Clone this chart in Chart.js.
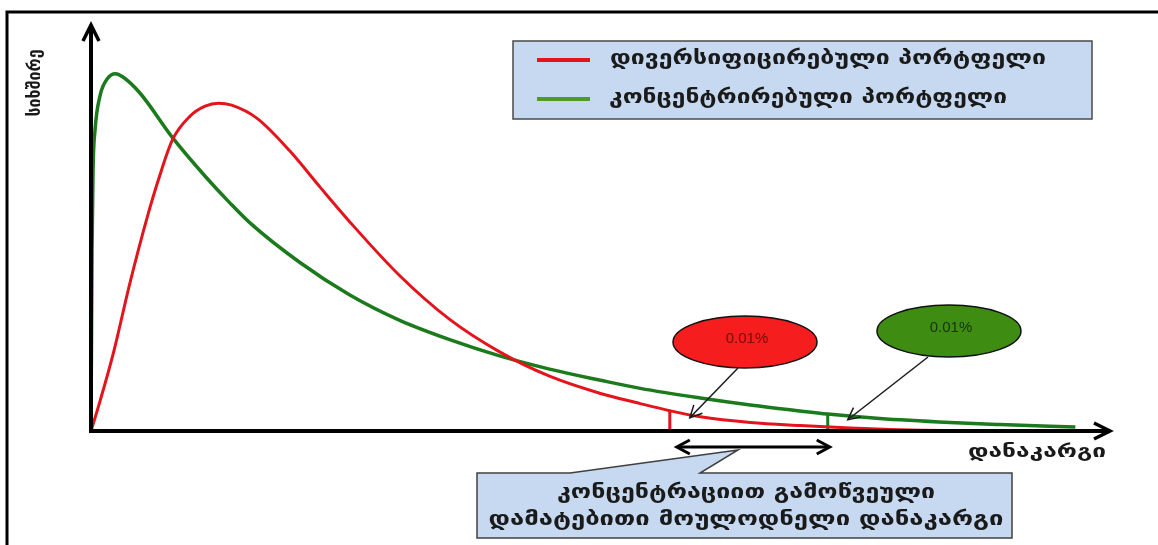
<!DOCTYPE html>
<html>
<head>
<meta charset="utf-8">
<script src="https://cdn.jsdelivr.net/npm/chart.js@4.4.1/dist/chart.umd.min.js"></script>
<style>
  html, body { margin: 0; padding: 0; background: #fff; }
  canvas { display: block; }
</style>
</head>
<body>
<canvas id="chart" width="1158" height="545"></canvas>
<script>
// Texts
const seriesNames = ["დივერსიფიცირებული პორტფელი", "კონცენტრირებული პორტფელი"];
const xTitle = "დანაკარგი";
const yTitle = "სიხშირე";
const calloutLines = ["კონცენტრაციით გამოწვეული", "დამატებითი მოულოდნელი დანაკარგი"];
const tailLabels = ["0.01%", "0.01%"];

// Diversified portfolio (red): loss -> frequency
const diversifiedLoss = [0, 9, 22, 38, 55, 66, 80, 97, 112, 125, 138, 163, 195, 225, 254, 303, 352, 401, 450, 500, 539, 568, 598, 647, 696, 745, 794, 853, 961];
const diversifiedFreq = [0, 30, 77, 145, 210, 247, 287, 310, 320, 323, 321, 308, 276, 240, 206, 153, 110, 78, 54, 37, 27, 20, 14, 8.4, 5.4, 3, 1.3, 0.5, 0];

// Concentrated portfolio (green)
const concentratedLoss = [0, 1, 2, 4, 9, 16, 24, 31, 48, 80, 112, 136, 156, 205, 254, 303, 352, 401, 450, 500, 539, 598, 647, 696, 723, 774, 843, 892, 966];
const concentratedFreq = [0, 178, 257, 297, 331, 347, 352, 349, 333, 289, 251, 225, 205, 166, 134, 109, 90, 74, 61, 50, 42, 32.5, 25.6, 19.7, 16.7, 12.3, 8.4, 6.4, 3.9];

// 99.99% cut-off of each distribution
const tailLoss = [568, 723];
const tailFreq = [20, 16];

const RED = "#e3141c";
const GREEN = "#1b7a1b";
const LEGEND_GREEN = "#4f9a2a";
const BOX_FILL = "#c6d9f1";
const FONT = '"DejaVu Sans", sans-serif';

function toPoints(xs, ys) {
  return xs.map((x, i) => ({ x: x, y: ys[i] }));
}

// draw text squeezed/stretched to a given width
function fitText(ctx, text, cx, cy, width, size, color) {
  ctx.save();
  ctx.font = "bold " + size + "px " + FONT;
  ctx.fillStyle = color;
  ctx.textAlign = "center";
  ctx.textBaseline = "middle";
  const w = ctx.measureText(text).width;
  ctx.translate(cx, cy);
  ctx.scale(width / w, 1);
  ctx.fillText(text, 0, 0);
  ctx.restore();
}

function chevron(ctx, tx, ty, angle, len, half) {
  const c = Math.cos(angle), s = Math.sin(angle);
  ctx.beginPath();
  ctx.moveTo(tx - len * c + half * s, ty - len * s - half * c);
  ctx.lineTo(tx, ty);
  ctx.lineTo(tx - len * c - half * s, ty - len * s + half * c);
  ctx.stroke();
}

function arrowLine(ctx, x1, y1, x2, y2) {
  ctx.beginPath();
  ctx.moveTo(x1, y1);
  ctx.lineTo(x2, y2);
  ctx.stroke();
  chevron(ctx, x2, y2, Math.atan2(y2 - y1, x2 - x1), 12, 6);
}

const overlay = {
  id: "overlay",
  afterDraw(chart) {
    const ctx = chart.ctx;
    const xs = chart.scales.x, ys = chart.scales.y;
    const px = v => xs.getPixelForValue(v);
    const py = v => ys.getPixelForValue(v);
    const x0 = px(0), y0 = py(0);
    const xEnd = px(xs.max), yTop = py(ys.max);

    ctx.save();
    ctx.lineCap = "butt";
    ctx.lineJoin = "miter";

    // outer frame
    ctx.strokeStyle = "#000";
    ctx.lineWidth = 3;
    ctx.beginPath();
    ctx.moveTo(7, 545);
    ctx.lineTo(7, 12);
    ctx.lineTo(1158, 12);
    ctx.stroke();

    // axes with arrow heads
    ctx.lineWidth = 4;
    ctx.beginPath();
    ctx.moveTo(x0, y0 + 2);
    ctx.lineTo(x0, yTop + 2);
    ctx.moveTo(x0 - 2, y0);
    ctx.lineTo(xEnd - 2, y0);
    ctx.stroke();
    ctx.lineWidth = 3.5;
    chevron(ctx, xEnd, y0, 0, 16, 8);
    chevron(ctx, x0, yTop, -Math.PI / 2, 16, 8);

    // axis titles
    fitText(ctx, xTitle, 1037, 452, 138, 18, "#1a1a1a");
    ctx.save();
    ctx.translate(36, 83);
    ctx.rotate(-Math.PI / 2);
    fitText(ctx, yTitle, 0, 0, 67, 17, "#1a1a1a");
    ctx.restore();

    // legend box
    ctx.fillStyle = BOX_FILL;
    ctx.fillRect(513, 41, 579, 78);
    ctx.strokeStyle = "#4a4a4a";
    ctx.lineWidth = 1.5;
    ctx.strokeRect(513, 41, 579, 78);
    ctx.lineWidth = 4;
    ctx.strokeStyle = RED;
    ctx.beginPath(); ctx.moveTo(537, 60); ctx.lineTo(590, 60); ctx.stroke();
    ctx.strokeStyle = LEGEND_GREEN;
    ctx.beginPath(); ctx.moveTo(537, 99); ctx.lineTo(590, 99); ctx.stroke();
    fitText(ctx, seriesNames[0], 828, 59, 436, 19, "#1a1a1a");
    fitText(ctx, seriesNames[1], 808, 98, 398, 19, "#1a1a1a");

    // tail bubbles with arrows pointing at the cut-offs
    const bubbles = [
      { cx: 745, cy: 342, fill: "#f51d1d", text: "#7a0a0a", from: [738, 368], to: [px(tailLoss[0]) + 20, py(tailFreq[0]) + 7] },
      { cx: 949, cy: 331, fill: "#3f8c12", text: "#16330a", from: [928, 357], to: [px(tailLoss[1]) + 20, py(tailFreq[1]) + 5] }
    ];
    bubbles.forEach((b, i) => {
      ctx.beginPath();
      ctx.ellipse(b.cx, b.cy, 72, 26, 0, 0, Math.PI * 2);
      ctx.fillStyle = b.fill;
      ctx.fill();
      ctx.strokeStyle = "#111";
      ctx.lineWidth = 1.5;
      ctx.stroke();
      ctx.save();
      ctx.font = '15px "Liberation Sans", "DejaVu Sans", sans-serif';
      ctx.fillStyle = b.text;
      ctx.textAlign = "center";
      ctx.textBaseline = "middle";
      ctx.fillText(tailLabels[i], b.cx + 2, b.cy - 3);
      ctx.restore();
      ctx.strokeStyle = "#1a1a1a";
      ctx.lineWidth = 1.5;
      arrowLine(ctx, b.from[0], b.from[1], b.to[0], b.to[1]);
    });

    // double arrow between the two cut-offs
    const ax1 = px(tailLoss[0]) + 7, ax2 = px(tailLoss[1]) + 2, ay = 447;
    ctx.strokeStyle = "#000";
    ctx.lineWidth = 3;
    ctx.beginPath(); ctx.moveTo(ax1 + 2, ay); ctx.lineTo(ax2 - 2, ay); ctx.stroke();
    chevron(ctx, ax1, ay, Math.PI, 13, 7);
    chevron(ctx, ax2, ay, 0, 13, 7);

    // callout box
    ctx.beginPath();
    ctx.moveTo(477, 473);
    ctx.lineTo(570, 473);
    ctx.lineTo(738, 450);
    ctx.lineTo(700, 473);
    ctx.lineTo(1012, 473);
    ctx.lineTo(1012, 538);
    ctx.lineTo(477, 538);
    ctx.closePath();
    ctx.fillStyle = BOX_FILL;
    ctx.fill();
    ctx.strokeStyle = "#404040";
    ctx.lineWidth = 1.5;
    ctx.stroke();
    fitText(ctx, calloutLines[0], 746, 493, 378, 19, "#1a1a1a");
    fitText(ctx, calloutLines[1], 746, 520, 515, 19, "#1a1a1a");

    ctx.restore();
  }
};

new Chart(document.getElementById("chart").getContext("2d"), {
  type: "line",
  data: {
    datasets: [
      { label: seriesNames[0], data: toPoints(diversifiedLoss, diversifiedFreq), borderColor: RED, borderWidth: 3, pointRadius: 0, cubicInterpolationMode: "monotone" },
      { label: seriesNames[1], data: toPoints(concentratedLoss, concentratedFreq), borderColor: GREEN, borderWidth: 3.5, pointRadius: 0, cubicInterpolationMode: "monotone" },
      { label: "cut-off 1", data: [{ x: tailLoss[0], y: 0 }, { x: tailLoss[0], y: tailFreq[0] }], borderColor: RED, borderWidth: 3, pointRadius: 0 },
      { label: "cut-off 2", data: [{ x: tailLoss[1], y: 0 }, { x: tailLoss[1], y: tailFreq[1] }], borderColor: GREEN, borderWidth: 3, pointRadius: 0 }
    ]
  },
  options: {
    responsive: false,
    animation: false,
    devicePixelRatio: 1,
    layout: { padding: { left: 91, right: 48, top: 25, bottom: 114 } },
    scales: {
      x: { type: "linear", min: 0, max: 1000, display: false },
      y: { type: "linear", min: 0, max: 400, display: false }
    },
    plugins: {
      legend: { display: false },
      tooltip: { enabled: false }
    }
  },
  plugins: [overlay]
});
</script>
</body>
</html>
